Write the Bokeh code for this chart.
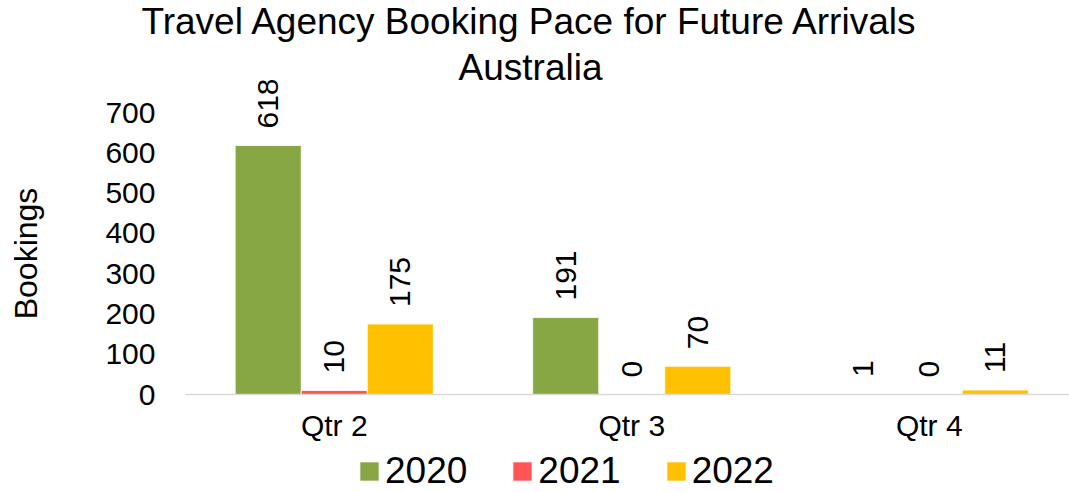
import numpy as np
from bokeh.plotting import figure
from bokeh.models import (Range1d, FixedTicker, ColumnDataSource, Legend, LegendItem, Label)
from bokeh.core.properties import value
from bokeh.embed import file_html
from bokeh.resources import INLINE

categories = ["Qtr 2", "Qtr 3", "Qtr 4"]
series = ["2020", "2021", "2022"]
v2020 = [618, 191, 1]
v2021 = [10, 0, 0]
v2022 = [175, 70, 11]
y_ticks = [0, 100, 200, 300, 400, 500, 600, 700]
title_lines = ["Travel Agency Booking Pace for Future Arrivals", "Australia"]

colors = ["#86A744", "#FF5454", "#FFC000"]
FONT = "Liberation Sans"

W, H = 1069, 492
# layout: plot area (axes) occupies x 185..1077, y 112..394 in pixels
left_px, bottom_px, top_px, cat_px = 185, 394, 112, 297.5
ymax = 700
u_per_px = ymax / (bottom_px - top_px)

centers = np.arange(len(categories)) + 0.5
bar_w = 0.222
offsets = [-bar_w, 0.0, bar_w]

x_range = Range1d(-left_px / cat_px, (W - left_px) / cat_px)
y_range = Range1d(-(H - bottom_px) * u_per_px, ymax + top_px * u_per_px)

p = figure(width=W, height=H, output_backend="svg", toolbar_location=None, title=None,
           x_range=x_range, y_range=y_range,
           min_border_left=0, min_border_right=0, min_border_top=0, min_border_bottom=0)
p.outline_line_color = None
p.xgrid.grid_line_color = None
p.ygrid.grid_line_color = None

for line, yy in zip(title_lines, [H - 21, H - 67]):
    p.add_layout(Label(x=530, y=yy, x_units="screen", y_units="screen", text=line,
                       text_align="center", text_baseline="alphabetic",
                       text_font=FONT, text_font_size="37px", text_color="black"))

renderers = []
for vals, off, col, name in zip([v2020, v2021, v2022], offsets, colors, series):
    src = ColumnDataSource(dict(x=centers + off, top=vals, lab=[str(v) for v in vals]))
    r = p.vbar(x="x", top="top", bottom=0, width=bar_w, source=src,
               fill_color=col, line_color="white", line_width=0.8)
    p.text(x="x", y="top", text="lab", source=src, angle=np.pi / 2,
           text_align="left", text_baseline="middle", y_offset=-17,
           text_font=value(FONT), text_font_size="30px", text_color="black")
    renderers.append((name, r))

xa = p.xaxis[0]
xa.fixed_location = 0
xa.bounds = (0, x_range.end)
xa.ticker = FixedTicker(ticks=list(centers))
xa.major_label_overrides = {float(c): lab for c, lab in zip(centers, categories)}
xa.major_tick_line_color = None
xa.minor_tick_line_color = None
xa.axis_line_color = "#D9D9D9"
xa.axis_line_width = 1.5
xa.major_label_text_font = FONT
xa.major_label_text_font_size = "30px"
xa.major_label_text_color = "black"
xa.major_label_standoff = 8

ya = p.yaxis[0]
ya.fixed_location = 0
ya.bounds = (0, ymax)
ya.ticker = FixedTicker(ticks=y_ticks)
ya.axis_line_color = None
ya.major_tick_line_color = None
ya.minor_tick_line_color = None
ya.major_label_text_font = FONT
ya.major_label_text_font_size = "30px"
ya.major_label_text_color = "black"
ya.major_label_standoff = 24
ya.axis_label = "Bookings"
ya.axis_label_text_font = FONT
ya.axis_label_text_font_size = "32px"
ya.axis_label_text_font_style = "normal"
ya.axis_label_text_color = "black"
ya.axis_label_standoff = 58

legend = Legend(items=[LegendItem(label=n, renderers=[r]) for n, r in renderers],
                orientation="horizontal", location=(357, 0),
                glyph_width=24, glyph_height=24, label_standoff=4, spacing=43,
                label_text_font=FONT, label_text_font_size="37px", label_text_color="black",
                border_line_color=None, background_fill_alpha=0, padding=0, margin=0)
p.add_layout(legend, "center")

open("out.html", "w").write(file_html(p, INLINE))
